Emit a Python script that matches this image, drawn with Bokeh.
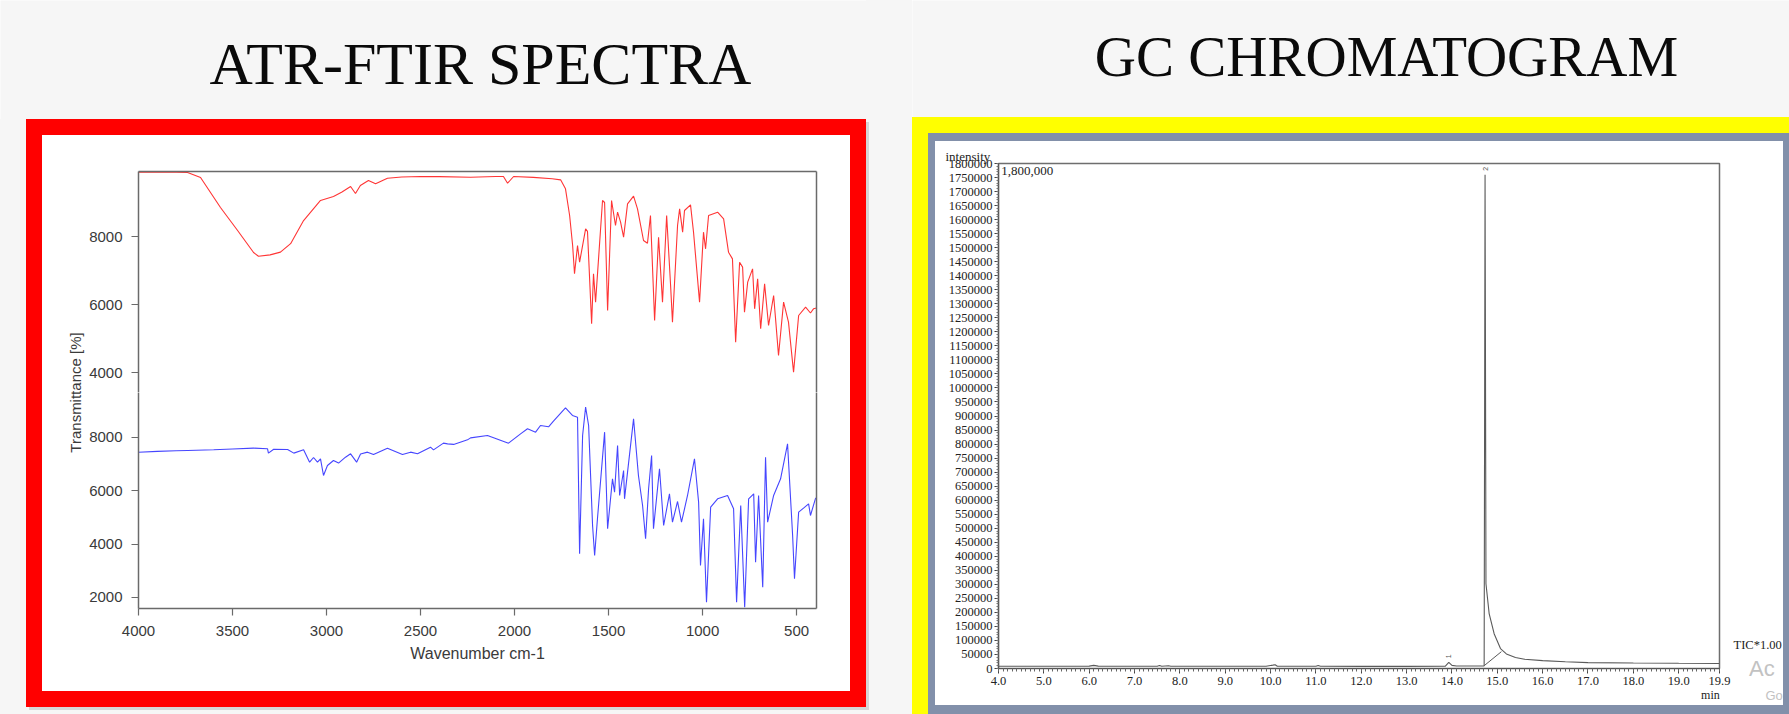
import numpy as np
from bokeh.plotting import figure
from bokeh.models import (Range1d, LinearAxis, FixedTicker, Spacer, Label, Title,
                          NumeralTickFormatter)
from bokeh.layouts import row, column
from bokeh.embed import file_html
from bokeh.resources import INLINE

# ---------------- data ----------------
panel_titles = ["ATR-FTIR SPECTRA", "GC CHROMATOGRAM"]

red_wn = [4000, 3900, 3800, 3739, 3670, 3564, 3473, 3388, 3362, 3300, 3245, 3191, 3122, 3032,
          2963, 2920, 2872, 2846, 2820, 2777, 2739, 2676, 2600, 2500, 2400, 2234, 2100, 2059,
          2037, 2005, 1900, 1800, 1755, 1729, 1707, 1691, 1681, 1665, 1654, 1622, 1612, 1590,
          1580, 1569, 1532, 1521, 1505, 1484, 1463, 1452, 1436, 1420, 1399, 1367, 1346, 1314,
          1293, 1277, 1255, 1234, 1213, 1191, 1170, 1160, 1133, 1122, 1106, 1096, 1064, 1048,
          1016, 995, 984, 968, 920, 888, 862, 841, 824, 803, 787, 777, 760, 734, 723, 707, 691,
          670, 649, 622, 612, 596, 569, 543, 516, 489, 452, 426, 410, 394]
red_t = [9891, 9893, 9890, 9885, 9735, 8853, 8176, 7530, 7420, 7460, 7540, 7790, 8470, 9060,
         9176, 9300, 9470, 9264, 9500, 9647, 9550, 9715, 9750, 9765, 9760, 9745, 9765, 9765,
         9568, 9765, 9740, 9700, 9667, 9402, 8618, 7735, 6903, 7735, 7245, 8225, 8150, 5432,
         6903, 6070, 9059, 9000, 5824, 9059, 8324, 8716, 8422, 7980, 8961, 9186, 8814, 7882,
         7800, 8618, 5530, 7980, 6070, 8618, 6559, 5481, 8324, 8814, 8127, 8765, 8932, 8127,
         6070, 8127, 7638, 8618, 8716, 8520, 7539, 7343, 4892, 7245, 7100, 5775, 6657, 7049,
         5873, 6755, 5285, 6608, 5383, 6265, 5600, 4500, 6070, 5481, 4010, 5677, 5922, 5750,
         5873, 5900]

blue_wn = [4000, 3900, 3800, 3739, 3600, 3500, 3388, 3314, 3309, 3281, 3207, 3174, 3122, 3090,
           3069, 3048, 3032, 3016, 2995, 2963, 2936, 2899, 2872, 2840, 2819, 2782, 2750, 2676,
           2596, 2553, 2516, 2447, 2431, 2378, 2356, 2324, 2250, 2234, 2144, 2032, 1968, 1931,
           1888, 1862, 1819, 1793, 1729, 1692, 1665, 1654, 1638, 1622, 1606, 1585, 1574, 1559,
           1521, 1505, 1479, 1468, 1452, 1441, 1420, 1415, 1367, 1341, 1319, 1303, 1287, 1271,
           1261, 1229, 1207, 1176, 1160, 1133, 1112, 1080, 1043, 1021, 1011, 995, 979, 957,
           920, 867, 835, 819, 797, 776, 755, 728, 718, 702, 680, 665, 654, 622, 585, 548, 521,
           511, 489, 463, 436, 426, 400, 394]
blue_t = [7449, 7480, 7500, 7512, 7540, 7570, 7600, 7580, 7413, 7560, 7550, 7413, 7537, 7075,
          7250, 7075, 7200, 6575, 6950, 7137, 7040, 7262, 7387, 7075, 7380, 7450, 7360, 7600,
          7362, 7450, 7387, 7637, 7537, 7787, 7762, 7740, 7912, 7987, 8075, 7787, 8137, 8325,
          8200, 8450, 8400, 8612, 9112, 8825, 8762, 3637, 8075, 9137, 8450, 4700, 3575, 4950,
          8200, 4575, 6450, 5950, 7700, 5825, 6762, 5700, 8700, 6575, 5450, 4200, 6075, 7325,
          4575, 6825, 4700, 5887, 4825, 5600, 4825, 5825, 7200, 5575, 3200, 4950, 1825, 5387,
          5700, 5825, 5325, 1825, 5450, 1637, 5700, 5887, 3325, 5825, 2387, 7262, 4825, 5825,
          6450, 7762, 4325, 2700, 5200, 5350, 5512, 5075, 5700, 5750]

ftir_x_ticks = [4000, 3500, 3000, 2500, 2000, 1500, 1000, 500]
ftir_upper_ticks = [4000, 6000, 8000]
ftir_lower_ticks = [2000, 4000, 6000, 8000]

gc_time = [4.0, 5.0, 6.0, 6.1, 6.2, 7.0, 7.5, 7.55, 7.6, 7.75, 7.8, 8.0, 9.0, 9.9, 10.05,
           10.1, 10.15, 11.0, 11.05, 11.1, 12.0, 13.0, 13.85, 13.93, 14.0, 14.1, 14.5, 14.71,
           14.73, 14.75, 14.82, 14.93, 15.07, 15.2, 15.4, 15.6, 16.0, 16.5, 17.0, 18.0, 19.0,
           19.9]
gc_int = [8000, 8000, 8500, 11000, 8500, 8000, 8000, 11000, 8000, 10000, 8000, 8000, 8000,
          8000, 12000, 13500, 8000, 8000, 11000, 8000, 7500, 7500, 8000, 22000, 11000, 9000,
          9000, 9500, 1760000, 302000, 196000, 124000, 71000, 52000, 39000, 33000, 28000,
          24000, 21000, 19500, 18500, 18000]
gc_base_time = [14.71, 15.09]
gc_base_int = [10000, 60000]
gc_peak_time = [13.93, 14.73]
gc_peak_int = [22000, 1760000]
gc_peak_label = ["1", "2"]
gc_x_ticks = [4.0, 5.0, 6.0, 7.0, 8.0, 9.0, 10.0, 11.0, 12.0, 13.0, 14.0, 15.0, 16.0, 17.0,
              18.0, 19.0, 19.9]
gc_y_ticks = list(range(0, 1800001, 50000))
gc_file = "GCMS Chromatogram C:\\GCMSsolution\\Data\\S_SIM\\Hutian\\4354n-8m-A0006MTTNAO1539-2.qgd"

# ---------------- styles ----------------
PAGE = "#f6f6f6"
SHADOW = "#d6d6d6"
RED = "#ff0000"
YELLOW = "#ffff00"
STEEL = "#8290aa"
AX = "#6a6a6a"
LBL = "#3a3a3a"
GCTXT = "#222222"
WATER = "#c2c2c2"
SANS = "Liberation Sans"
SERIF = "Liberation Serif"


def block(w, h, color):
    return Spacer(width=w, height=h, styles={"background-color": color})


def blank_fig(w, h, bg):
    f = figure(width=w, height=h, x_range=Range1d(0, w), y_range=Range1d(0, h),
               toolbar_location=None, output_backend="svg", x_axis_location=None,
               y_axis_location=None, min_border=0, outline_line_color=None,
               background_fill_color=bg, border_fill_color=bg, frame_align=False)
    f.grid.visible = False
    return f


def line_axis():
    return LinearAxis(ticker=FixedTicker(ticks=[]), major_label_text_font_size="0px",
                      major_tick_line_color=None, minor_tick_line_color=None,
                      axis_line_color=AX, axis_line_width=1.5)


def ticked_axis(ticks, **kw):
    return LinearAxis(ticker=FixedTicker(ticks=ticks), minor_tick_line_color=None,
                      axis_line_color=AX, axis_line_width=1.5,
                      major_tick_line_color=AX, major_tick_line_width=1.2,
                      major_tick_in=0, major_tick_out=7,
                      major_label_text_font=SANS, major_label_text_font_size="15px",
                      major_label_text_color=LBL, **kw)


def text_axis(tick, text, size, color, standoff, font=SERIF):
    return LinearAxis(ticker=FixedTicker(ticks=[tick]), major_label_overrides={tick: text},
                      axis_line_color=None, major_tick_line_color=None,
                      minor_tick_line_color=None, major_tick_out=0, major_tick_in=0,
                      major_label_standoff=standoff, major_label_text_font=font,
                      major_label_text_font_size=size, major_label_text_color=color)


# ---------------- titles ----------------
t_left = blank_fig(866, 119, PAGE)
t_left.add_layout(Label(x=480, y=56, text=panel_titles[0], text_align="center",
                        text_baseline="middle", text_font=SERIF,
                        text_font_size="60px", text_color="#0a0a0a"))
t_right = blank_fig(877, 117, PAGE)
t_right.add_layout(Label(x=474, y=61, text=panel_titles[1], text_align="center",
                         text_baseline="middle", text_font=SERIF,
                         text_font_size="57px", text_color="#0a0a0a"))

# ---------------- FTIR ----------------
xr = Range1d(4000, 394)

ylab = blank_fig(44, 556, "white")
ylab.add_layout(Label(x=33, y=299, text="Transmittance [%]", angle=np.pi / 2,
                      text_align="center", text_baseline="middle", text_font=SANS,
                      text_font_size="15px", text_color=LBL))

upper = figure(width=764, height=257, x_range=xr, y_range=Range1d(3412, 9912),
               toolbar_location=None, output_backend="svg", x_axis_location=None,
               y_axis_location=None, min_border_left=52, min_border_right=34,
               min_border_top=36, min_border_bottom=0, outline_line_color=None,
               border_fill_color="white", frame_align=False)
upper.grid.visible = False
upper.add_layout(ticked_axis(ftir_upper_ticks, major_label_standoff=9), "left")
upper.add_layout(line_axis(), "above")
upper.add_layout(line_axis(), "right")
upper.line(red_wn, red_t, line_color="#ff3535", line_width=1.1)

lower = figure(width=764, height=299, x_range=xr, y_range=Range1d(1587, 9687),
               toolbar_location=None, output_backend="svg", x_axis_location=None,
               y_axis_location=None, min_border_left=52, min_border_right=34,
               min_border_top=0, min_border_bottom=83, outline_line_color=None,
               border_fill_color="white", frame_align=False)
lower.grid.visible = False
lower.add_layout(ticked_axis(ftir_lower_ticks, major_label_standoff=9), "left")
lower.add_layout(ticked_axis(ftir_x_ticks, major_label_standoff=10,
                             axis_label="Wavenumber cm-1", axis_label_text_font=SANS,
                             axis_label_text_font_size="16px", axis_label_text_color=LBL,
                             axis_label_text_font_style="normal", axis_label_standoff=6),
                 "below")
lower.add_layout(line_axis(), "right")
lower.line(blue_wn, blue_t, line_color="#4646ff", line_width=1.1)

ftir_content = row(ylab, column(upper, lower))
red_panel = row(block(16, 588, RED),
                column(block(808, 16, RED), ftir_content, block(808, 16, RED)),
                block(16, 588, RED))
left_block = column(t_left,
                    row(block(26, 588, PAGE), red_panel),
                    row(block(29, 3, PAGE), block(837, 3, SHADOW)),
                    block(866, 4, PAGE))
gap = column(block(46, 122, PAGE),
             row(block(3, 588, SHADOW), block(43, 588, PAGE)),
             block(46, 4, PAGE))

# ---------------- GC ----------------
gc_strip_top = blank_fig(848, 5, "white")
gc_strip_top.add_layout(Label(x=425, y=5, text=gc_file, text_align="center",
                              text_baseline="middle", text_font=SERIF,
                              text_font_size="13px", text_color=GCTXT))

gc_yr = Range1d(0, 1800000)
gc = figure(width=797, height=559, x_range=Range1d(4.0, 19.9), y_range=gc_yr,
            toolbar_location=None, output_backend="svg", x_axis_location=None,
            y_axis_location=None, min_border_left=63, min_border_right=13,
            min_border_top=16, min_border_bottom=37, outline_line_color="#6e6e6e",
            outline_line_width=1.5, border_fill_color="white", frame_align=False)
gc.grid.visible = False
gc.title = Title(text="intensity", align="left", offset=-53, standoff=0,
                 text_font=SERIF, text_font_size="13px", text_font_style="normal",
                 text_color=GCTXT)
gx = LinearAxis(ticker=FixedTicker(ticks=gc_x_ticks,
                                   minor_ticks=[round(v, 1) for v in np.arange(4.0, 19.95, 0.1)]),
                formatter=NumeralTickFormatter(format="0.0"),
                axis_line_color="#555555", axis_line_width=1.2,
                major_tick_line_color="#444444", major_tick_in=0, major_tick_out=5,
                minor_tick_line_color="#666666", minor_tick_in=0, minor_tick_out=3,
                major_label_standoff=3, major_label_text_font=SERIF,
                major_label_text_font_size="12.5px", major_label_text_color=GCTXT)
gc.add_layout(gx, "below")
gc.add_layout(text_axis(19.7, "min", "12px", GCTXT, 0), "below")
gy = LinearAxis(ticker=FixedTicker(ticks=gc_y_ticks,
                                   minor_ticks=list(range(0, 1800001, 10000))),
                formatter=NumeralTickFormatter(format="0"),
                axis_line_color="#555555", axis_line_width=1.2,
                major_tick_line_color="#444444", major_tick_in=0, major_tick_out=4,
                minor_tick_line_color="#777777", minor_tick_in=0, minor_tick_out=2,
                major_label_standoff=2, major_label_text_font=SERIF,
                major_label_text_font_size="12.5px", major_label_text_color=GCTXT)
gc.add_layout(gy, "left")
gc.line(gc_time, gc_int, line_color="#5a5a5a", line_width=1.1)
gc.line(gc_base_time, gc_base_int, line_color="#5a5a5a", line_width=1.0)
gc.text(x=gc_peak_time, y=gc_peak_int, text=gc_peak_label, angle=np.pi / 2,
        text_align="left", text_baseline="middle", text_font_size="7px",
        text_color="#555555", x_offset=0, y_offset=-4)
gc.add_layout(Label(x=4.06, y=1775000, text="1,800,000", text_align="left",
                    text_baseline="middle", text_font=SERIF, text_font_size="13px",
                    text_color=GCTXT))

# right-hand strip beside the chromatogram (same vertical frame as gc)
gc_strip_right = figure(width=51, height=559, x_range=Range1d(0, 51), y_range=gc_yr,
                        toolbar_location=None, output_backend="svg", x_axis_location=None,
                        y_axis_location=None, min_border_left=0, min_border_right=0,
                        min_border_top=16, min_border_bottom=37, outline_line_color=None,
                        border_fill_color="white", frame_align=False)
gc_strip_right.grid.visible = False
gc_strip_right.add_layout(Label(x=1, y=71000, text="TIC*1.00", text_align="left",
                                text_baseline="middle", text_font=SERIF,
                                text_font_size="12.5px", text_color=GCTXT))
gc_strip_right.add_layout(text_axis(47, "Ac", "22px", WATER, -9, SANS), "below")
gc_strip_right.add_layout(text_axis(43, "Go", "13px", WATER, 4, SANS), "below")

gc_inner = column(gc_strip_top, row(gc, gc_strip_right))
steel_frame = column(block(854, 8, STEEL),
                     row(gc_inner, block(6, 564, STEEL)),
                     block(854, 9, STEEL))
yellow_panel = row(block(16, 597, YELLOW),
                   column(block(861, 16, YELLOW),
                          row(block(7, 581, STEEL), steel_frame)))
right_block = column(t_right, yellow_panel)

root = row(left_block, gap, right_block)

open("out.html", "w").write(file_html(root, INLINE, title="ATR-FTIR and GC"))
